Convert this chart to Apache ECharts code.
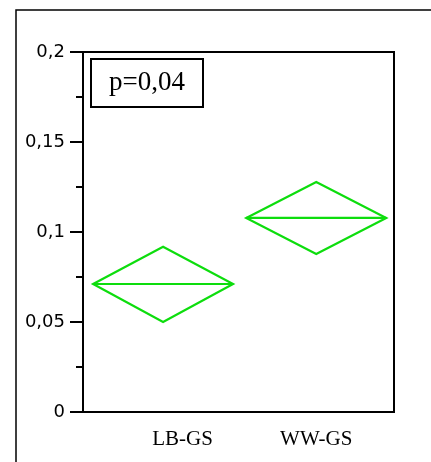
<!DOCTYPE html>
<html>
<head>
<meta charset="utf-8">
<script src="https://cdn.jsdelivr.net/npm/echarts@6/dist/echarts.min.js"></script>
<style>
  html, body { margin: 0; padding: 0; background: #ffffff; }
  #chart { width: 431px; height: 462px; }
</style>
</head>
<body>
<div id="chart"></div>
<script>
// groups and their mean diamonds (mean, lower / upper confidence)
var groups = ['LB-GS', 'WW-GS'];
var groupX = [0.515, 1.5];
var means = [0.0711, 0.1078];
var lower = [0.050, 0.0878];
var upper = [0.0918, 0.1278];
var halfWidth = [0.45, 0.45];
// where the group names sit under the axis
var labelX = [0.64, 1.5];
var pText = 'p=0,04';

var green = '#0ddd0d';

var seriesData = [];
groups.map(function (g, i) {
  seriesData.push([groupX[i], means[i], lower[i], upper[i], halfWidth[i]]);
});

var myCharts = echarts.init(document.getElementById('chart'));
var option = {
  backgroundColor: '#ffffff',
  animation: false,
  grid: {
    left: 83,
    top: 52,
    right: 37,
    bottom: 50,
    show: true,
    borderColor: '#000000',
    borderWidth: 2,
    backgroundColor: 'transparent'
  },
  title: {
    text: pText,
    left: 91,
    top: 59,
    borderColor: '#000000',
    borderWidth: 2,
    padding: [10, 18, 11, 18],
    textStyle: {
      fontFamily: 'Liberation Serif',
      fontWeight: 'normal',
      fontSize: 27,
      color: '#000000'
    }
  },
  graphic: [{
    type: 'rect',
    shape: { x: 16, y: 10, width: 600, height: 600 },
    style: { fill: 'none', stroke: '#000000', lineWidth: 1.5 },
    z: -1
  }],
  xAxis: {
    type: 'value',
    min: 0,
    max: 2,
    axisLine: { show: true, lineStyle: { color: '#000000', width: 2 } },
    axisTick: { show: false },
    splitLine: { show: false },
    axisLabel: {
      customValues: labelX,
      margin: 17,
      fontFamily: 'Liberation Serif',
      fontSize: 21,
      color: '#000000',
      formatter: function (v) {
        var idx = labelX.indexOf(v);
        return idx >= 0 ? groups[idx] : '';
      }
    }
  },
  yAxis: {
    type: 'value',
    min: 0,
    max: 0.2,
    interval: 0.05,
    axisLine: { show: true, lineStyle: { color: '#000000', width: 2 } },
    axisTick: { show: true, length: 13, lineStyle: { color: '#000000', width: 2 } },
    minorTick: { show: true, splitNumber: 2, length: 7, lineStyle: { color: '#000000', width: 2 } },
    splitLine: { show: false },
    axisLabel: {
      margin: 18,
      fontFamily: 'DejaVu Sans',
      fontSize: 18,
      color: '#000000',
      formatter: function (v) {
        return String(+v.toFixed(3)).replace('.', ',');
      }
    }
  },
  series: [{
    type: 'custom',
    clip: false,
    data: seriesData,
    renderItem: function (params, api) {
      var x = api.value(0), m = api.value(1), lo = api.value(2), hi = api.value(3), hw = api.value(4);
      var L = api.coord([x - hw, m]);
      var R = api.coord([x + hw, m]);
      var T = api.coord([x, hi]);
      var B = api.coord([x, lo]);
      return {
        type: 'group',
        children: [{
          type: 'polygon',
          shape: { points: [L, T, R, B] },
          style: { fill: 'none', stroke: green, lineWidth: 2.2 }
        }, {
          type: 'line',
          shape: { x1: L[0], y1: L[1], x2: R[0], y2: R[1] },
          style: { stroke: green, lineWidth: 2.2 }
        }]
      };
    }
  }]
};
myCharts.setOption(option);
</script>
</body>
</html>
